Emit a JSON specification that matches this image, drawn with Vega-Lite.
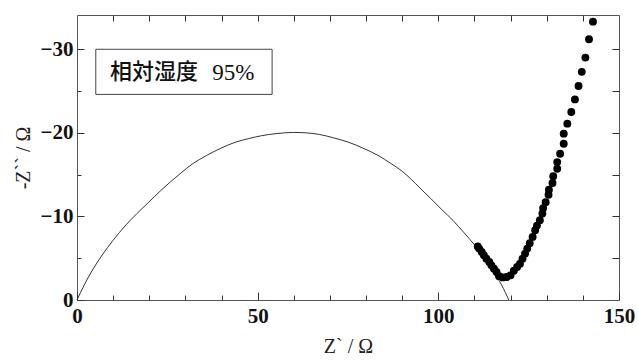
{
  "$schema": "https://vega.github.io/schema/vega-lite/v6.json",
  "width": 542,
  "height": 285,
  "autosize": "none",
  "padding": {"left": 77, "top": 15, "right": 19, "bottom": 63},
  "background": "white",
  "config": {
    "view": {"stroke": "#555", "strokeWidth": 1},
    "axis": {
      "grid": false,
      "domain": false,
      "ticks": true,
      "tickColor": "#333",
      "tickWidth": 1,
      "tickOpacity": 1,
      "zindex": 2,
      "labelFont": "Liberation Serif",
      "labelFontWeight": "bold",
      "labelFontSize": 21,
      "labelColor": "#111",
      "titleFont": "Liberation Serif",
      "titleFontWeight": "normal",
      "titleFontSize": 20,
      "titleColor": "#222"
    }
  },
  "datasets": {
    "arc": [
      {"re": 0, "im": 0}, {"re": 2, "im": -1.8}, {"re": 4.3, "im": -3.6}, {"re": 7, "im": -5.4},
      {"re": 9.9, "im": -7.1}, {"re": 13.6, "im": -9.0}, {"re": 16.5, "im": -10.3}, {"re": 19.6, "im": -11.6},
      {"re": 23.2, "im": -13.1}, {"re": 28.5, "im": -15.1}, {"re": 32, "im": -16.3}, {"re": 35.9, "im": -17.3},
      {"re": 40, "im": -18.2}, {"re": 44, "im": -18.9}, {"re": 47.4, "im": -19.3}, {"re": 51, "im": -19.65},
      {"re": 55, "im": -19.9}, {"re": 60, "im": -20.05}, {"re": 63.5, "im": -20.0}, {"re": 67.2, "im": -19.8},
      {"re": 71, "im": -19.4}, {"re": 75, "im": -18.9}, {"re": 79, "im": -18.2}, {"re": 83.3, "im": -17.3},
      {"re": 87, "im": -16.3}, {"re": 90, "im": -15.4}, {"re": 92.6, "im": -14.4}, {"re": 94.9, "im": -13.4},
      {"re": 98, "im": -12.1}, {"re": 101, "im": -10.8}, {"re": 104.1, "im": -9.5}, {"re": 107, "im": -8.1},
      {"re": 110.1, "im": -6.55}, {"re": 113, "im": -4.9}, {"re": 115.5, "im": -3.2}, {"re": 117.5, "im": -1.8},
      {"re": 119.5, "im": 0}
    ],
    "pts": [
      {"re": 142.8, "im": -33.3}, {"re": 141.7, "im": -31.2}, {"re": 140.7, "im": -29.0}, {"re": 139.7, "im": -27.3},
      {"re": 138.8, "im": -25.6}, {"re": 137.8, "im": -24.0}, {"re": 136.8, "im": -22.5}, {"re": 135.7, "im": -21.1},
      {"re": 134.7, "im": -19.9}, {"re": 134.7, "im": -18.7}, {"re": 133.7, "im": -17.5}, {"re": 132.9, "im": -16.5},
      {"re": 132.9, "im": -15.7}, {"re": 131.8, "im": -14.8}, {"re": 131.6, "im": -14.0}, {"re": 130.6, "im": -13.2},
      {"re": 130.5, "im": -12.6}, {"re": 129.7, "im": -11.7}, {"re": 129.0, "im": -11.0}, {"re": 128.8, "im": -10.35},
      {"re": 128.1, "im": -9.55}, {"re": 127.3, "im": -8.9}, {"re": 126.8, "im": -8.35}, {"re": 126.1, "im": -7.55},
      {"re": 125.3, "im": -6.8}, {"re": 124.6, "im": -6.15}, {"re": 124.0, "im": -5.55}, {"re": 123.3, "im": -4.95},
      {"re": 122.6, "im": -4.35}, {"re": 121.8, "im": -3.95}, {"re": 120.9, "im": -3.5}, {"re": 120.0, "im": -2.95},
      {"re": 118.9, "im": -2.75}, {"re": 117.8, "im": -2.7}, {"re": 116.8, "im": -2.85}, {"re": 116.1, "im": -3.35},
      {"re": 115.4, "im": -3.75}, {"re": 114.7, "im": -4.15}, {"re": 114.1, "im": -4.55}, {"re": 113.3, "im": -4.95},
      {"re": 112.6, "im": -5.35}, {"re": 112.0, "im": -5.75}, {"re": 111.3, "im": -6.15}, {"re": 110.9, "im": -6.4}
    ],
    "box": [{"x0": 5.2, "x1": 54.0, "y0": -30.0, "y1": -24.6}],
    "labels": [
      {"label": "相対湿度", "x": 9.1, "y": -27.3},
      {"label": "95%", "x": 37.4, "y": -27.3}
    ]
  },
  "resolve": {"axis": {"x": "independent", "y": "independent"}},
  "layer": [
    {
      "data": {"name": "arc"},
      "mark": {"type": "line", "color": "#333", "strokeWidth": 1, "interpolate": "monotone"},
      "encoding": {
        "x": {
          "field": "re", "type": "quantitative", "sort": null,
          "scale": {"domain": [0, 150], "nice": false, "zero": false},
          "axis": {"orient": "bottom", "values": [0, 50, 100, 150], "offset": -8, "tickSize": 8, "labelPadding": 5, "title": "Z` / Ω", "titlePadding": 10, "labelFlush": false}
        },
        "y": {
          "field": "im", "type": "quantitative",
          "scale": {"domain": [-34.1, 0], "nice": false, "zero": false, "reverse": true},
          "axis": {"orient": "left", "values": [0, -10, -20, -30], "offset": -7, "tickSize": 7, "labelPadding": 4, "title": "-Z`` / Ω", "titlePadding": 7, "labelFlush": false}
        }
      }
    },
    {
      "data": {"name": "pts"},
      "mark": {"type": "circle", "color": "#000", "opacity": 1, "size": 62},
      "encoding": {
        "x": {
          "field": "re", "type": "quantitative",
          "scale": {"domain": [0, 150], "nice": false, "zero": false},
          "axis": {"orient": "bottom", "values": [10, 20, 30, 40, 60, 70, 80, 90, 110, 120, 130, 140], "offset": -5, "tickSize": 5, "labels": false, "title": null}
        },
        "y": {
          "field": "im", "type": "quantitative",
          "scale": {"domain": [-34.1, 0], "nice": false, "zero": false, "reverse": true},
          "axis": {"orient": "left", "values": [-5, -15, -25], "offset": -4, "tickSize": 4, "labels": false, "title": null}
        }
      }
    },
    {
      "data": {"name": "box"},
      "mark": {"type": "rect", "fill": "white", "stroke": "#444", "strokeWidth": 1},
      "encoding": {
        "x": {
          "field": "x0", "type": "quantitative",
          "scale": {"domain": [0, 150], "nice": false, "zero": false},
          "axis": {"orient": "top", "values": [10, 20, 30, 40, 50, 60, 70, 80, 90, 100, 110, 120, 130, 140], "offset": -6, "tickSize": 6, "labels": false, "title": null}
        },
        "x2": {"field": "x1"},
        "y": {
          "field": "y0", "type": "quantitative",
          "scale": {"domain": [-34.1, 0], "nice": false, "zero": false, "reverse": true},
          "axis": {"orient": "right", "values": [-5, -10, -15, -20, -25, -30], "offset": -7, "tickSize": 7, "labels": false, "title": null}
        },
        "y2": {"field": "y1"}
      }
    },
    {
      "data": {"name": "labels"},
      "transform": [{"filter": "datum.label == '相対湿度'"}],
      "mark": {"type": "text", "align": "left", "baseline": "middle", "font": "Noto Sans CJK JP", "fontSize": 22, "fontWeight": 500, "color": "#111"},
      "encoding": {
        "x": {"field": "x", "type": "quantitative", "axis": null},
        "y": {"field": "y", "type": "quantitative", "axis": null},
        "text": {"field": "label"}
      }
    },
    {
      "data": {"name": "labels"},
      "transform": [{"filter": "datum.label == '95%'"}],
      "mark": {"type": "text", "align": "left", "baseline": "middle", "font": "Liberation Serif", "fontSize": 23, "color": "#111", "dy": 1},
      "encoding": {
        "x": {"field": "x", "type": "quantitative", "axis": null},
        "y": {"field": "y", "type": "quantitative", "axis": null},
        "text": {"field": "label"}
      }
    }
  ]
}
